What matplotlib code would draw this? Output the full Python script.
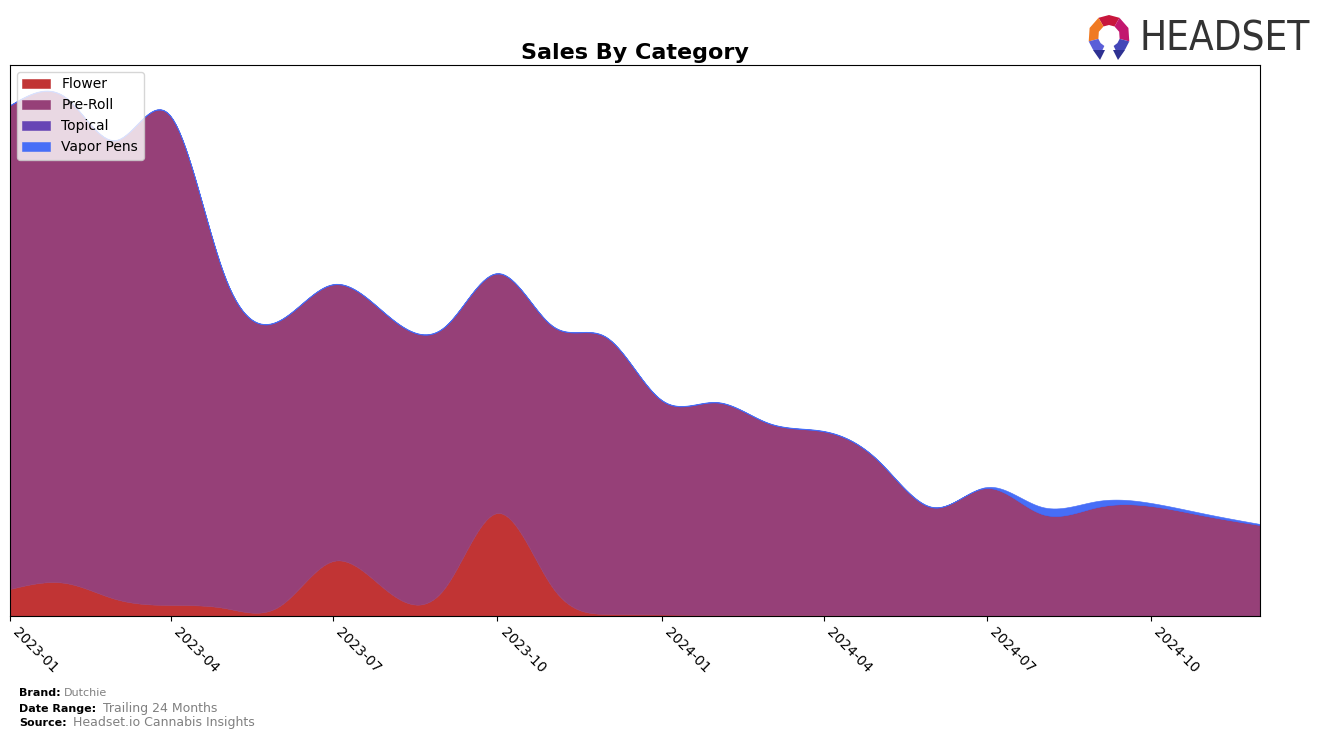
import numpy as np
import pandas as pd
import matplotlib
matplotlib.use("Agg")
import matplotlib.pyplot as plt
import matplotlib.dates as mdates
from matplotlib.patches import Polygon

# monthly sales (relative units)
months = pd.date_range("2023-01-01", "2024-12-01", freq="MS")
flower = [27, 33, 17, 11, 8, 10, 55, 24, 27, 103, 28, 2,
          1.5, 1, 1, 0.8, 0.5, 0.5, 0.5, 0.5, 0.3, 0.3, 0.2, 0.2]
total = [511, 519, 476, 500, 341, 296, 332, 300, 289, 343, 290, 279,
         216, 214, 193, 185, 156, 109, 129, 109, 115, 113, 102, 92]
vapor_pens = [0.5, 0.5, 0.5, 0.5, 0.5, 0.5, 0.5, 0.5, 0.5, 0.5, 0.5, 0.5,
              0.5, 0.5, 0.5, 0.5, 0.5, 0.5, 1, 7, 6, 3, 2, 1]
topical = [0] * 24
pre_roll = [t - f - v for t, f, v in zip(total, flower, vapor_pens)]

categories = ["Flower", "Pre-Roll", "Topical", "Vapor Pens"]
colors = ["#c13434", "#964078", "#6745b5", "#476ef7"]


def smooth(x, y, n=400):
    # natural cubic spline, just for drawing
    x = np.asarray(x, float)
    y = np.asarray(y, float)
    k = len(x)
    h = np.diff(x)
    A = np.zeros((k, k))
    b = np.zeros(k)
    A[0, 0] = A[-1, -1] = 1
    for i in range(1, k - 1):
        A[i, i - 1] = h[i - 1]
        A[i, i] = 2 * (h[i - 1] + h[i])
        A[i, i + 1] = h[i]
        b[i] = 6 * ((y[i + 1] - y[i]) / h[i] - (y[i] - y[i - 1]) / h[i - 1])
    M = np.linalg.solve(A, b)
    xs = np.linspace(x[0], x[-1], n)
    idx = np.clip(np.searchsorted(x, xs) - 1, 0, k - 2)
    x0, x1 = x[idx], x[idx + 1]
    hh = x1 - x0
    t0, t1 = x1 - xs, xs - x0
    ys = (M[idx] * t0 ** 3 + M[idx + 1] * t1 ** 3) / (6 * hh) \
        + (y[idx] / hh - M[idx] * hh / 6) * t0 \
        + (y[idx + 1] / hh - M[idx + 1] * hh / 6) * t1
    return xs, np.clip(ys, 0, None)


xnum = mdates.date2num(months)
series = [flower, pre_roll, topical, vapor_pens]
smoothed = []
for s in series:
    xs, ys = smooth(xnum, s)
    smoothed.append(ys)

fig = plt.figure(figsize=(13.24, 7.4), dpi=100)
ax = fig.add_axes([0.00755, 0.1676, 0.9441, 0.7446])

ax.stackplot(xs, *smoothed, labels=categories, colors=colors, linewidth=0.4,
             edgecolor="face")

ax.set_xlim(xnum[0], xnum[-1])
ax.set_ylim(0, 551)
ax.set_yticks([])
ax.xaxis.set_major_locator(mdates.MonthLocator(bymonth=[1, 4, 7, 10]))
ax.xaxis.set_major_formatter(mdates.DateFormatter("%Y-%m"))
plt.setp(ax.get_xticklabels(), rotation=-45, ha="left", fontsize=10)
ax.set_title("Sales By Category", fontsize=16, fontweight="bold", pad=4)

ax.legend(loc="upper left", fontsize=10, framealpha=0.8)

# footer
fig.text(0.0143, 0.0635, "Brand:", fontsize=8, fontweight="bold", va="center")
fig.text(0.0483, 0.0635, "Dutchie", fontsize=8, color="gray", va="center")
fig.text(0.0143, 0.0420, "Date Range:", fontsize=8, fontweight="bold", va="center")
fig.text(0.0775, 0.0420, "Trailing 24 Months", fontsize=9, color="gray", va="center")
fig.text(0.0143, 0.0230, "Source:", fontsize=8, fontweight="bold", va="center")
fig.text(0.0550, 0.0230, "Headset.io Cannabis Insights", fontsize=9, color="gray",
         va="center")

# logo
fig.text(0.8610, 0.9465, "HEADSET", fontsize=29, color="#333333",
         va="center", ha="left", fontstretch="condensed")
lax = fig.add_axes([1080 / 1324, 1 - 64 / 740, 60 / 1324, 60 / 740])
lax.set_xlim(0, 60)
lax.set_ylim(0, 60)
lax.axis("off")
cx, cy = 29, 28
r_out, r_in = 21, 11
segs = [(60, 120, "#c8163c"), (120, 195, "#f07a22"), (195, 245, "#5b5fd8"),
        (-15, 60, "#c2186f"), (-65, -15, "#4446b8")]
for a0, a1, col in segs:
    a = np.deg2rad(np.linspace(a0, a1, 3))
    outer = [(cx + r_out * np.cos(t), cy + r_out * np.sin(t)) for t in a]
    inner = [(cx + r_in * np.cos(t), cy + r_in * np.sin(t)) for t in a[::-1]]
    lax.add_patch(Polygon(outer + inner, closed=True, facecolor=col,
                          edgecolor="none"))
# little legs at the bottom
lax.add_patch(Polygon([(13, 14), (25, 14), (20, 4)], facecolor="#2e3192",
                      edgecolor="none"))
lax.add_patch(Polygon([(33, 14), (45, 14), (38, 4)], facecolor="#2e3192",
                      edgecolor="none"))

fig.savefig("out.png", dpi=100)
